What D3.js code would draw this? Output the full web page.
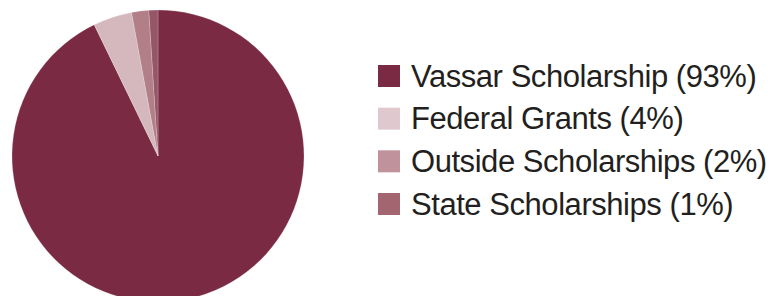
<!DOCTYPE html>
<html>
<head>
<meta charset="utf-8">
<script src="https://cdn.jsdelivr.net/npm/d3@7"></script>
<style>
  html, body { margin: 0; padding: 0; background: #fff; }
  svg { display: block; }
</style>
</head>
<body>
<svg id="chart" width="782" height="296"></svg>
<script>
const categories = ["Vassar Scholarship", "Federal Grants", "Outside Scholarships", "State Scholarships"];
const values = [92.8, 4.3, 1.9, 1.0];
const pctLabels = ["93%", "4%", "2%", "1%"];
const sliceColors = ["#7b2a43", "#d4b8bd", "#b27f88", "#955767"];
const legendColors = ["#7b2a43", "#e0c9ce", "#c0939c", "#a3656f"];

const svg = d3.select("#chart");
const cx = 158, cy = 156, r = 146;

const pie = d3.pie().sort(null).value(d => d)(values);
const arc = d3.arc().innerRadius(0).outerRadius(r);

svg.append("g")
  .attr("transform", `translate(${cx},${cy})`)
  .selectAll("path")
  .data(pie)
  .join("path")
  .attr("d", arc)
  .attr("fill", (d, i) => sliceColors[i])
  .attr("stroke", "#ffffff")
  .attr("stroke-width", 0.4)
  .attr("stroke-opacity", 0.5);

const legendY = d3.scalePoint().domain(categories).range([76, 204]);
const lg = svg.append("g");
const items = lg.selectAll("g").data(categories).join("g")
  .attr("transform", d => `translate(378,${legendY(d)})`);
items.append("rect")
  .attr("x", 0).attr("y", -11).attr("width", 22).attr("height", 22)
  .attr("fill", (d, i) => legendColors[i]);
items.append("text")
  .attr("x", 33).attr("y", 10.5)
  .attr("font-family", "'Liberation Sans', Arial, sans-serif")
  .attr("font-size", 31)
  .attr("letter-spacing", -0.45)
  .attr("fill", "#231f20")
  .text((d, i) => `${d} (${pctLabels[i]})`);
</script>
</body>
</html>
